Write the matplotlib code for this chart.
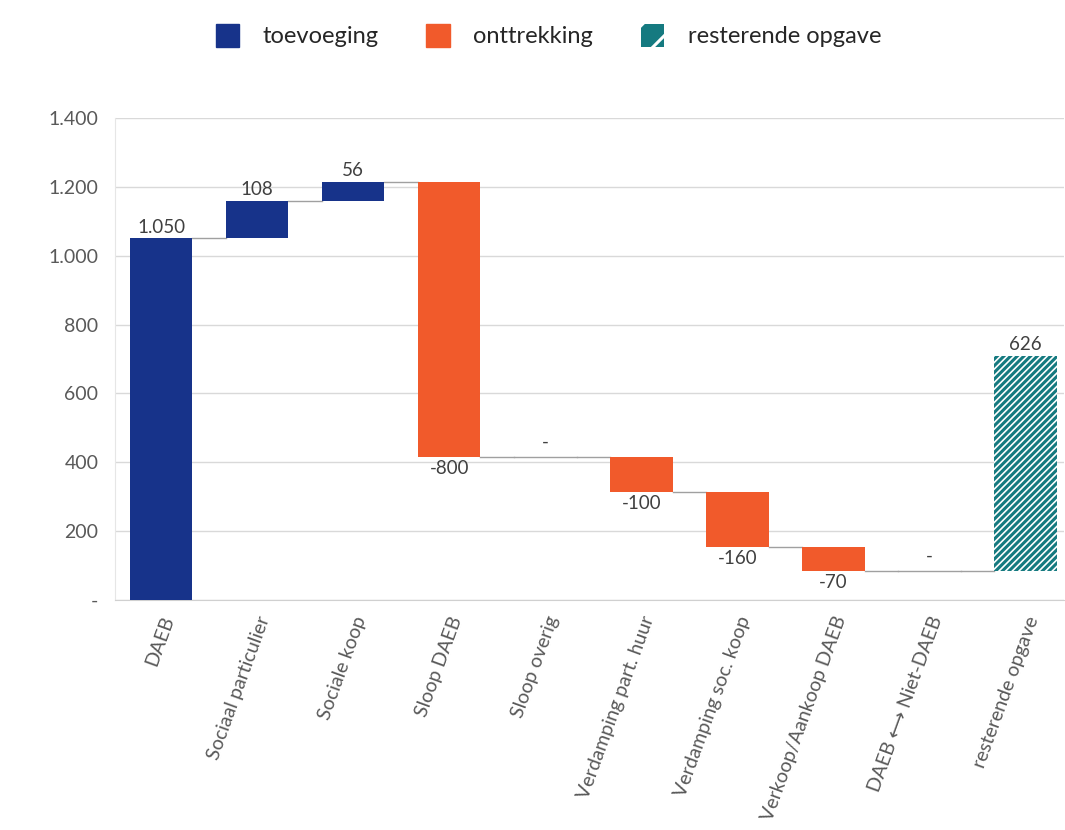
import matplotlib.pyplot as plt
from matplotlib.patches import Patch
import matplotlib as mpl

plt.rcParams['font.family'] = ['Lato', 'DejaVu Sans']
mpl.rcParams['hatch.linewidth'] = 2.2

# data
categories = ['DAEB', 'Sociaal particulier', 'Sociale koop', 'Sloop DAEB', 'Sloop overig',
              'Verdamping part. huur', 'Verdamping soc. koop', 'Verkoop/Aankoop DAEB',
              'DAEB \u27f7 Niet-DAEB', 'resterende opgave']
changes = [1050, 108, 56, -800, 0, -100, -160, -70, 0]
rest_value = 626
labels = ['1.050', '108', '56', '-800', '-', '-100', '-160', '-70', '-', '626']
yticks = [0, 200, 400, 600, 800, 1000, 1200, 1400]
ytick_labels = ['-', '200', '400', '600', '800', '1.000', '1.200', '1.400']

navy = '#17338a'
orange = '#f15a2b'
teal = '#157a80'
grey_txt = '#404040'
lbl_size = 13.5

fig = plt.figure(figsize=(10.65, 8.3), dpi=100)
ax = fig.add_axes([0.108, 0.277, 0.891, 0.581])

w = 0.65
running = 0
totals = []
for i, c in enumerate(changes):
    start = running
    running += c
    totals.append(running)
    if c > 0:
        ax.bar(i, c, bottom=start, width=w, color=navy, zorder=3)
        ax.text(i, running + 8, labels[i], ha='center', va='bottom', fontsize=lbl_size, color=grey_txt)
    elif c < 0:
        ax.bar(i, -c, bottom=running, width=w, color=orange, zorder=3)
        ax.text(i, running - 8, labels[i], ha='center', va='top', fontsize=lbl_size, color=grey_txt)
    else:
        ax.text(i, running + 20, labels[i], ha='center', va='bottom', fontsize=lbl_size, color=grey_txt)
        ax.plot([i - w / 2, i + w / 2], [running, running], color='#a0a0a0', lw=1, zorder=2)

n = len(changes)
ax.bar(n, rest_value, bottom=running, width=w, color='white', edgecolor=teal,
       hatch='/////', linewidth=0, zorder=3)
ax.text(n, running + rest_value + 8, labels[n], ha='center', va='bottom', fontsize=lbl_size, color=grey_txt)

# connector lines
for i, t in enumerate(totals):
    ax.plot([i + w / 2, i + 1 - w / 2], [t, t], color='#a0a0a0', lw=1, zorder=2)

ax.set_ylim(0, 1400)
ax.set_xlim(-0.48, n + 0.4)
ax.set_yticks(yticks)
ax.set_yticklabels(ytick_labels, fontsize=14, color='#595959')
ax.set_xticks(range(n + 1))
ax.set_xticklabels(categories, rotation=70, ha='right', rotation_mode='anchor',
                   fontsize=14, color='#595959')
ax.tick_params(length=0, pad=12)
ax.tick_params(axis='x', pad=10)
ax.grid(axis='y', color='#d9d9d9', lw=1, zorder=0)
for s in ['top', 'right']:
    ax.spines[s].set_visible(False)
ax.spines['left'].set_color('#e6e6e6')
ax.spines['bottom'].set_color('#d0d0d0')

handles = [Patch(facecolor=navy, edgecolor=navy),
           Patch(facecolor=orange, edgecolor=orange),
           Patch(facecolor=teal, edgecolor='white', hatch='/', lw=0)]
fig.legend(handles, ['toevoeging', 'onttrekking', 'resterende opgave'], loc='center',
           bbox_to_anchor=(0.515, 0.957), ncol=3, frameon=False, fontsize=17,
           handlelength=1.0, handleheight=1.1, handletextpad=1.0, columnspacing=2.0,
           labelcolor='#262626')

fig.savefig('out.png', dpi=100)
